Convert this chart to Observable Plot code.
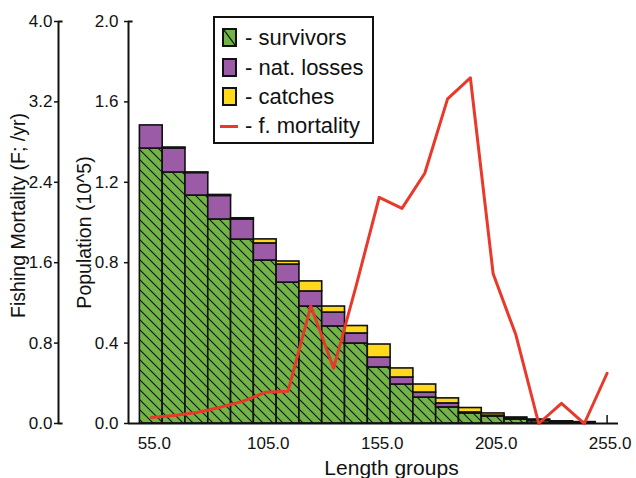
<!DOCTYPE html>
<html><head><meta charset="utf-8">
<script src="https://cdn.jsdelivr.net/npm/d3@7"></script>
<script src="https://cdn.jsdelivr.net/npm/@observablehq/plot@0.6"></script>
<style>
body{margin:0;background:#fff;font-family:"Liberation Sans",Arial,sans-serif;color:#111;}
#wrap{position:relative;width:636px;height:478px;overflow:hidden;}
#wrap svg{position:absolute;left:0;top:0;}
#legend{position:absolute;left:213px;top:16px;width:161px;height:128px;box-sizing:border-box;border:2px solid #111;background:#fff;}
.row{position:absolute;left:0;height:28px;line-height:28px;font-size:22px;white-space:nowrap;}
.row .t{position:absolute;left:30px;top:0;}
.sw{position:absolute;left:7px;top:4px;width:15px;height:19px;box-sizing:border-box;border:2px solid #111;}
.ln{position:absolute;left:5px;top:13px;width:18px;height:3px;background:#e8392a;}
</style></head><body>
<div id="wrap"></div>
<script>
// ---- data ----
const groups = [55,65,75,85,95,105,115,125,135,145,155,165,175,185,195,205,215,225,235,245];
const survivors = [1.368,1.249,1.134,1.015,0.915,0.811,0.701,0.582,0.483,0.398,0.279,0.194,0.129,0.080,0.050,0.035,0.020,0.012,0.007,0.004];
const natLosses = [0.115,0.119,0.112,0.117,0.100,0.085,0.090,0.075,0.069,0.050,0.049,0.035,0.025,0.020,0.005,0.004,0.003,0.002,0.001,0.001];
const catches   = [0.000,0.005,0.003,0.005,0.006,0.020,0.015,0.050,0.030,0.037,0.065,0.045,0.040,0.025,0.022,0.011,0.007,0.006,0.003,0.002];
const fGroups = [55,65,75,85,95,105,115,125,135,145,155,165,175,185,195,205,215,225,235,245,255];
const fMortality = [0.06,0.08,0.11,0.16,0.22,0.31,0.32,1.17,0.55,1.38,2.25,2.14,2.49,3.23,3.44,1.49,0.88,0.00,0.20,0.00,0.50];
const xTicks = [55,105,155,205,255];
const popTicks = [0,0.4,0.8,1.2,1.6,2.0];
const fTicks = [0,0.8,1.6,2.4,3.2,4.0];
const legendLabels = ["- survivors","- nat. losses","- catches","- f. mortality"];

// ---- style ----
const green = "#72b445", purple = "#9b5ba7", yellow = "#ffd91a", red = "#e8392a", ink = "#111";
const W = 636, H = 478, mL = 128, mR = 18, mT = 21, mB = 55;
const xDomain = [45, 260];
const halfW = 5;
const font = "Liberation Sans, Arial, sans-serif";

const bars = groups.map((g, i) => ({g, s: survivors[i], n: natLosses[i], c: catches[i]}));
const fData = fGroups.map((g, i) => ({g, f: fMortality[i]}));

const common = {
  width: W, height: H, marginLeft: mL, marginRight: mR, marginTop: mT, marginBottom: mB,
  style: {fontFamily: font, fontSize: "17px", color: ink, background: "transparent", overflow: "visible"}
};
const barOpts = {x1: d => d.g - halfW, x2: d => d.g + halfW, stroke: ink, strokeWidth: 1.6};

const p1 = Plot.plot({
  ...common,
  x: {domain: xDomain},
  y: {domain: [0, 2]},
  marks: [
    Plot.ruleX(xTicks, {y1: 0, y2: 0.04, stroke: ink, strokeWidth: 1.5}),
    Plot.rectY(bars, {...barOpts, y1: 0, y2: d => d.s, fill: "url(#hatch)"}),
    Plot.rectY(bars, {...barOpts, y1: d => d.s, y2: d => d.s + d.n, fill: purple}),
    Plot.rectY(bars.filter(d => d.c > 0), {...barOpts, y1: d => d.s + d.n, y2: d => d.s + d.n + d.c, fill: yellow}),
    Plot.axisY({ticks: popTicks, tickFormat: d => d.toFixed(1), tickSize: 4, tickPadding: 6, label: null, fontSize: 17, strokeWidth: 1.5}),
    Plot.ruleX([xDomain[0]], {y1: 0, y2: 2, stroke: ink, strokeWidth: 2}),
    Plot.ruleY([2], {x1: xDomain[0], x2: xDomain[0] + 2, stroke: ink, strokeWidth: 2}),
    Plot.ruleY([0], {x1: xDomain[0], x2: xDomain[1], stroke: ink, strokeWidth: 2}),
    Plot.axisX({ticks: xTicks, tickFormat: d => d.toFixed(1), tickSize: 0, tickPadding: 13, dx: 3, label: null, fontSize: 17}),
    Plot.text(["Population (10^5)"], {frameAnchor: "left", textAnchor: "middle", lineAnchor: "middle", dx: -44, dy: 10, rotate: -90, fontSize: 19.5, fill: ink}),
    Plot.text(["Length groups"], {frameAnchor: "bottom", textAnchor: "middle", dx: 18, dy: 45, lineAnchor: "middle", fontSize: 21, fill: ink})
  ]
});

const ns = "http://www.w3.org/2000/svg";
const defs = document.createElementNS(ns, "defs");
defs.innerHTML = `<pattern id="hatch" patternUnits="userSpaceOnUse" width="10" height="10"><rect width="10" height="10" fill="${green}"/><path d="M-1,-1L11,11M-1,9L1,11M9,-1L11,1" stroke="${ink}" stroke-width="1.1"/></pattern>`;
p1.insertBefore(defs, p1.firstChild);

const p2 = Plot.plot({
  ...common,
  x: {domain: xDomain, axis: null},
  y: {domain: [0, 4], axis: null},
  marks: [
    Plot.axisY({ticks: fTicks, tickFormat: d => d.toFixed(1), tickSize: 4, tickPadding: 2, dx: -70, label: null, fontSize: 17, strokeWidth: 1.5}),
    Plot.ruleX([xDomain[0]], {y1: 0, y2: 4, dx: -70, stroke: ink, strokeWidth: 2}),
    Plot.ruleY([0, 4], {x1: xDomain[0], x2: xDomain[0] + 2, dx: -70, stroke: ink, strokeWidth: 2}),
    Plot.text(["Fishing Mortality (F; /yr)"], {frameAnchor: "left", textAnchor: "middle", lineAnchor: "middle", dx: -110, dy: -7, rotate: -90, fontSize: 19.5, fill: ink}),
    Plot.line(fData, {x: "g", y: "f", stroke: red, strokeWidth: 3})
  ]
});

const wrap = document.getElementById("wrap");
wrap.appendChild(p1);
wrap.appendChild(p2);

// legend
const leg = document.createElement("div");
leg.id = "legend";
const tops = [6, 36, 65, 94];
const swatchHatch = `<svg width="11" height="15" style="position:absolute;left:0;top:0"><rect width="11" height="15" fill="${green}"/><path d="M0,0L11,15" stroke="${ink}" stroke-width="1.2"/></svg>`;
legendLabels.forEach((lab, i) => {
  const row = document.createElement("div");
  row.className = "row";
  row.style.top = tops[i] + "px";
  let sw = "";
  if (i === 0) sw = `<span class="sw" style="background:${green}">${swatchHatch}</span>`;
  else if (i === 1) sw = `<span class="sw" style="background:${purple}"></span>`;
  else if (i === 2) sw = `<span class="sw" style="background:${yellow}"></span>`;
  else sw = `<span class="ln"></span>`;
  row.innerHTML = sw + `<span class="t">${lab}</span>`;
  leg.appendChild(row);
});
wrap.appendChild(leg);
</script>
</body></html>
